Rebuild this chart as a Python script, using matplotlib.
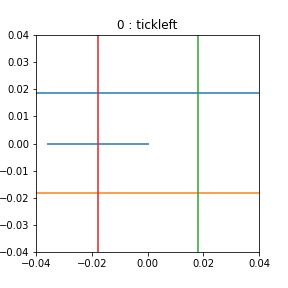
import matplotlib
matplotlib.use("Agg")
import matplotlib.pyplot as plt

# marker extent guides
marker_name = "tickleft"
marker_x = [-0.0356, 0.0]
marker_y = [0.0, 0.0]
hlines_y = [0.0187, -0.0181]
hlines_c = ["C0", "C1"]
vlines_x = [-0.0178, 0.0181]
vlines_c = ["C3", "C2"]
lim = [-0.04, 0.04]
ticks = [-0.04, -0.03, -0.02, -0.01, 0.00, 0.01, 0.02, 0.03, 0.04]
xticks = [-0.04, -0.02, 0.00, 0.02, 0.04]

fig = plt.figure(figsize=(4, 4), dpi=72)
ax = fig.add_subplot(111)
fig.subplots_adjust(left=0.125, right=0.9, bottom=0.125, top=0.878)

ax.plot(marker_x, marker_y, color="C0", lw=2, alpha=0.75)
for y, c in zip(hlines_y, hlines_c):
    ax.axhline(y, color=c, lw=2, alpha=0.75)
for x, c in zip(vlines_x, vlines_c):
    ax.axvline(x, color=c, lw=2, alpha=0.75)

ax.set_xlim(lim)
ax.set_ylim(lim)
ax.set_xticks(xticks)
ax.set_yticks(ticks)
ax.set_title(f"0 : {marker_name}")

fig.savefig("out.png", dpi=72)
